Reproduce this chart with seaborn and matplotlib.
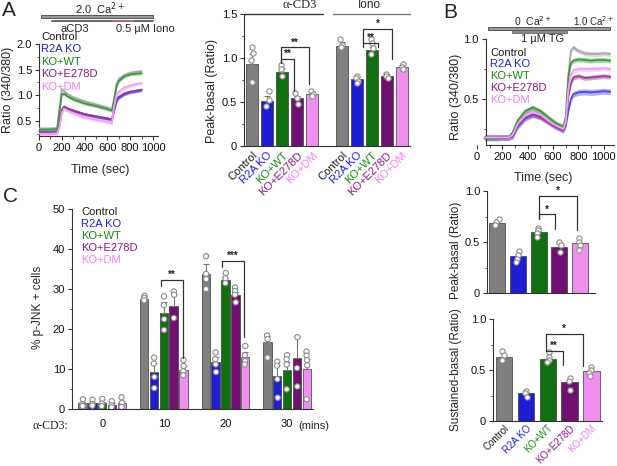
import numpy as np
import pandas as pd
import matplotlib
matplotlib.use("Agg")
import matplotlib.pyplot as plt
from matplotlib.ticker import MultipleLocator, FixedLocator
import seaborn as sns

sns.set_theme(style="ticks")
plt.rcParams["font.family"] = ["Liberation Sans", "DejaVu Sans"]
plt.rcParams["axes.linewidth"] = 0.8
plt.rcParams["axes.edgecolor"] = "#333333"
plt.rcParams["xtick.color"] = "#333333"
plt.rcParams["ytick.color"] = "#333333"
plt.rcParams["xtick.labelcolor"] = "#111111"
plt.rcParams["ytick.labelcolor"] = "#111111"

# ---------------- data ----------------
GROUPS = ["Control", "R2A KO", "KO+WT", "KO+E278D", "KO+DM"]
BAR_COLORS = ["#7f7f7f", "#0000f0", "#008000", "#800080", "#ff80ff"]
TEXT_COLORS = ["#1a1a1a", "#1f1fe6", "#138a13", "#861a86", "#f57df5"]
LINE_COLORS = ["#a9a9a9", "#4b4be0", "#3c9a3c", "#9a3c9a", "#f5a0f5"]

# Panel A traces (aCD3 then ionomycin)
A_TIME = [0, 100, 160, 180, 200, 220, 250, 300, 400, 500, 600, 640, 660, 680, 700, 750, 800, 900]
A_CONTROL = [0.35, 0.35, 0.36, 0.75, 1.12, 1.08, 1.02, 0.96, 0.88, 0.82, 0.76, 0.72, 0.95, 1.22, 1.32, 1.40, 1.44, 1.47]
A_R2AKO = [0.28, 0.28, 0.29, 0.45, 0.72, 0.78, 0.74, 0.70, 0.63, 0.58, 0.54, 0.52, 0.70, 0.88, 0.95, 1.02, 1.06, 1.10]
A_KOWT = [0.33, 0.33, 0.34, 0.70, 1.02, 1.03, 0.98, 0.92, 0.84, 0.79, 0.73, 0.70, 0.92, 1.18, 1.28, 1.37, 1.41, 1.43]
A_E278D = [0.27, 0.27, 0.28, 0.42, 0.70, 0.77, 0.74, 0.70, 0.63, 0.59, 0.55, 0.53, 0.75, 0.92, 0.97, 1.04, 1.07, 1.11]
A_DM = [0.25, 0.25, 0.26, 0.38, 0.65, 0.74, 0.70, 0.65, 0.57, 0.52, 0.48, 0.46, 0.80, 1.00, 1.07, 1.15, 1.19, 1.24]
A_SEM = [0.035, 0.03, 0.03, 0.03, 0.035]

# Panel A bars: peak - basal
A_STIM = ["α-CD3", "Iono"]
A_ACD3_MEAN = [0.93, 0.515, 0.845, 0.54, 0.59]
A_ACD3_SEM = [0.12, 0.05, 0.04, 0.03, 0.02]
A_IONO_MEAN = [1.135, 0.76, 1.09, 0.795, 0.90]
A_IONO_SEM = [0.05, 0.02, 0.04, 0.02, 0.02]
A_ACD3_PTS = [[1.13, 1.06, 0.98, 0.73], [0.62, 0.52, 0.46], [0.92, 0.88, 0.79],
              [0.60, 0.55, 0.48], [0.62, 0.59, 0.57]]
A_IONO_PTS = [[1.22, 1.15, 1.12], [0.80, 0.77, 0.74, 0.72], [1.22, 1.17, 1.11, 1.04],
              [0.82, 0.80, 0.77], [0.93, 0.90, 0.88]]

# Panel B traces (TG in 0 Ca, then 1 mM Ca)
B_TIME = [60, 150, 250, 280, 320, 380, 440, 500, 560, 620, 680, 700, 720, 740, 760, 800, 850, 900, 950, 1000, 1050]
B_CONTROL = [0.18, 0.18, 0.18, 0.21, 0.30, 0.38, 0.41, 0.38, 0.33, 0.28, 0.25, 0.33, 0.70, 0.90, 0.93, 0.90, 0.88, 0.875, 0.875, 0.88, 0.875]
B_R2AKO = [0.18, 0.18, 0.18, 0.19, 0.27, 0.34, 0.37, 0.35, 0.31, 0.27, 0.24, 0.28, 0.40, 0.50, 0.54, 0.555, 0.56, 0.555, 0.56, 0.565, 0.56]
B_KOWT = [0.17, 0.17, 0.18, 0.22, 0.32, 0.40, 0.43, 0.40, 0.35, 0.30, 0.27, 0.35, 0.68, 0.80, 0.82, 0.83, 0.825, 0.82, 0.825, 0.825, 0.82]
B_E278D = [0.18, 0.18, 0.18, 0.19, 0.28, 0.35, 0.37, 0.35, 0.31, 0.27, 0.24, 0.30, 0.52, 0.63, 0.68, 0.69, 0.675, 0.68, 0.685, 0.69, 0.685]
B_DM = [0.18, 0.18, 0.18, 0.20, 0.29, 0.36, 0.39, 0.37, 0.32, 0.28, 0.25, 0.31, 0.58, 0.70, 0.74, 0.75, 0.75, 0.75, 0.75, 0.755, 0.75]
B_SEM = [0.02, 0.025, 0.02, 0.02, 0.02]

# Panel B bars
B_PEAK_MEAN = [0.69, 0.36, 0.60, 0.45, 0.49]
B_PEAK_PTS = [[0.725, 0.70, 0.67], [0.415, 0.37, 0.33, 0.30], [0.64, 0.62, 0.585, 0.55],
              [0.50, 0.47, 0.405], [0.535, 0.50, 0.47, 0.42]]
B_SUST_MEAN = [0.63, 0.27, 0.61, 0.38, 0.49]
B_SUST_PTS = [[0.69, 0.645, 0.595], [0.295, 0.27, 0.24], [0.68, 0.63, 0.595, 0.58],
              [0.42, 0.39, 0.30], [0.525, 0.50, 0.47, 0.44]]

# Panel C: % p-JNK+ cells
C_TIMES = ["0", "10", "20", "30"]
C_MEAN = {
    "0": [1.5, 1.5, 1.5, 1.1, 1.6],
    "10": [27.5, 9.3, 24.0, 25.7, 9.8],
    "20": [33.7, 11.8, 32.2, 28.6, 13.0],
    "30": [16.7, 8.3, 9.9, 12.9, 10.1],
}
C_SEM = {
    "0": [0.4, 0.4, 0.4, 0.4, 0.5],
    "10": [0.8, 2.2, 2.8, 3.0, 1.0],
    "20": [2.5, 1.3, 0.8, 0.8, 1.4],
    "30": [1.6, 2.8, 2.0, 5.2, 2.4],
}
C_PTS = {
    "0": [[2.5, 1.2, 0.8], [2.4, 1.3, 0.9], [2.6, 1.4, 0.8], [2.0, 1.0, 0.5], [3.0, 1.6, 0.6]],
    "10": [[28.3, 27.8, 27.2], [12.9, 11.4, 8.1, 5.3], [28.2, 26.0, 22.5, 19.8],
           [29.4, 28.6, 22.8], [12.3, 10.8, 9.5, 8.5]],
    "20": [[38.2, 33.8, 32.5, 30.0], [14.2, 12.5, 11.2, 9.3], [34.0, 32.7, 31.5],
           [30.4, 29.5, 28.6, 26.7], [15.8, 13.5, 12.0, 11.2]],
    "30": [[18.4, 17.5, 12.9], [11.9, 10.9, 7.5, 2.9], [13.5, 12.5, 11.2, 5.0],
           [18.0, 10.3, 5.7], [14.4, 13.4, 12.3, 11.0, 2.5]],
}

# ---------------- layout helpers ----------------
W, H = 617, 466
fig = plt.figure(figsize=(W / 100, H / 100), dpi=100)


def add_ax(l, t, r, b):
    return fig.add_axes([l / W, 1 - b / H, (r - l) / W, (b - t) / H])


PT_KW = dict(marker="o", size=3.8, edgecolor="#8a8a8a", linewidth=0.8)


def style(ax, fs=8):
    sns.despine(ax=ax)
    ax.tick_params(axis="both", labelsize=fs, length=3, width=0.8, pad=2)
    ax.tick_params(which="minor", length=1.8, width=0.6)


def bracket(ax, x1, x2, y, yl1, yl2, txt, fs=7):
    ax.plot([x1, x1, x2, x2], [yl1, y, y, yl2], color="#333333", lw=0.9,
            clip_on=False, zorder=6)
    ax.text((x1 + x2) / 2, y, txt, ha="center", va="bottom", fontsize=fs,
            fontweight="bold", color="#222222", clip_on=False, zorder=6)


def traces(ax, time, series, sems):
    rows = []
    for g, vals in zip(GROUPS, series):
        for t, v in zip(time, vals):
            rows.append({"time": t, "ratio": v, "group": g})
    df = pd.DataFrame(rows)
    for g, vals, s, c in zip(GROUPS, series, sems, LINE_COLORS):
        v = np.array(vals)
        ax.fill_between(time, v - s, v + s, color=c, alpha=0.45, lw=0, zorder=2)
    sns.lineplot(data=df, x="time", y="ratio", hue="group", hue_order=GROUPS,
                 palette=LINE_COLORS, legend=False, lw=1.3, ax=ax, zorder=3)


def bars_simple(ax, means, pts, width):
    df = pd.DataFrame({"group": GROUPS, "val": means})
    sns.barplot(data=df, x="group", y="val", hue="group", order=GROUPS, hue_order=GROUPS,
                palette=BAR_COLORS, width=width, legend=False, errorbar=None,
                edgecolor="#3a3a3a", linewidth=0.5, ax=ax, zorder=2)
    prow = [{"group": g, "val": v} for g, vs in zip(GROUPS, pts) for v in vs]
    sns.stripplot(data=pd.DataFrame(prow), x="group", y="val", order=GROUPS, ax=ax,
                  zorder=5, color="white", jitter=0.12, **PT_KW)
    ax.set_xlabel("")


np.random.seed(3)

# ---------------- overlay for annotations ----------------
ov = fig.add_axes([0, 0, 1, 1], zorder=10)
ov.set_xlim(0, W)
ov.set_ylim(H, 0)
ov.axis("off")
ov.patch.set_alpha(0)

# ---------------- Panel A traces ----------------
axA = add_ax(39, 44, 157.6, 136.3)
traces(axA, A_TIME, [A_CONTROL, A_R2AKO, A_KOWT, A_E278D, A_DM], A_SEM)
axA.set_xlim(0, 1040)
axA.set_ylim(0.2, 2.0)
axA.set_xticks([0, 200, 400, 600, 800, 1000])
axA.xaxis.set_minor_locator(MultipleLocator(100))
axA.set_yticks([0.5, 1.0, 1.5, 2.0])
axA.set_yticklabels(["0.5", "1.0", "1.5", "2.0"])
axA.yaxis.set_minor_locator(MultipleLocator(0.25))
style(axA)
axA.set_xlabel("Time (sec)", fontsize=9)
axA.xaxis.set_label_coords((100 - 39) / 118.6, (136.3 - 164) / 92.3)
axA.set_ylabel("Ratio (340/380)", fontsize=9)
axA.yaxis.set_label_coords((14 - 39) / 118.6, 0.5)

for i, (g, c) in enumerate(zip(GROUPS, TEXT_COLORS)):
    ov.text(41, 37 + 12.4 * i, g, color=c, fontsize=8, va="center", ha="left")

ov.add_patch(plt.Rectangle((41, 15.2), 112, 3, facecolor="#9a9a9a", edgecolor="#444444", lw=0.6))
ov.plot([52, 153], [20.5, 20.5], color="#666666", lw=1.4)
ov.plot([113, 133], [20.5, 20.5], color="#b07070", lw=1.4)
ov.text(100, 8.5, "2.0  Ca$^{2+}$", fontsize=8, ha="center", va="center")
ov.text(75, 28.5, "aCD3", fontsize=8, ha="center", va="center")
ov.text(145, 28.5, "0.5 µM Iono", fontsize=8, ha="center", va="center")

# ---------------- Panel A bars ----------------
axAb = add_ax(244, 14, 410, 146)
keys_a = [f"{A_STIM[0]}|{g}" for g in GROUPS]
keys_i = [f"{A_STIM[1]}|{g}" for g in GROUPS]
ORDER_A = keys_a + ["gap"] + keys_i
pal_a = {k: c for k, c in zip(keys_a + keys_i, BAR_COLORS * 2)}
dfA = pd.DataFrame({"key": keys_a + keys_i, "val": A_ACD3_MEAN + A_IONO_MEAN})
sns.barplot(data=dfA, x="key", y="val", hue="key", order=ORDER_A, palette=pal_a,
            width=0.83, legend=False, errorbar=None, edgecolor="#3a3a3a",
            linewidth=0.5, ax=axAb, zorder=2)
xs = [ORDER_A.index(k) for k in keys_a + keys_i]
axAb.errorbar(xs, A_ACD3_MEAN + A_IONO_MEAN,
              yerr=[np.zeros(10), A_ACD3_SEM + A_IONO_SEM],
              fmt="none", ecolor="#777777", elinewidth=0.8, capsize=2.5, capthick=0.8, zorder=3)
prowA = [{"key": k, "val": v} for k, vs in zip(keys_a + keys_i, A_ACD3_PTS + A_IONO_PTS) for v in vs]
sns.stripplot(data=pd.DataFrame(prowA), x="key", y="val", order=ORDER_A, ax=axAb,
              zorder=5, color="white", jitter=0.12, **PT_KW)
axAb.set_xlim(-0.55, 10.55)
axAb.set_ylim(0, 1.5)
axAb.set_yticks([0, 0.5, 1.0, 1.5])
axAb.set_yticklabels(["0", "0.5", "1.0", "1.5"])
axAb.yaxis.set_minor_locator(MultipleLocator(0.25))
style(axAb)
axAb.set_xticks(xs)
axAb.set_xticklabels(GROUPS * 2, rotation=45, ha="right", rotation_mode="anchor", fontsize=8)
for lab, c in zip(axAb.get_xticklabels(), TEXT_COLORS * 2):
    lab.set_color(c)
axAb.tick_params(axis="x", length=0, pad=3)
axAb.set_xlabel("")
axAb.set_ylabel("Peak-basal (Ratio)", fontsize=9)
axAb.yaxis.set_label_coords((218 - 244) / 166, 0.42)
axAb.plot([-0.55, 4.73], [1.5, 1.5], color="#333333", lw=1.0, clip_on=False)
axAb.plot([5.4, 10.55], [1.5, 1.5], color="#777777", lw=1.0, clip_on=False)
axAb.text(3.2, 1.6, "α-CD3", fontsize=9, ha="center", va="center", family=["Liberation Serif", "DejaVu Serif"])
axAb.text(7.87, 1.6, "Iono", fontsize=8.5, ha="center", va="center")
bracket(axAb, 1.91, 3.82, 1.12, 0.94, 0.70, "**")
bracket(axAb, 1.91, 2.80, 0.985, 0.94, 0.63, "**")
bracket(axAb, 7.42, 9.35, 1.33, 1.17, 0.985, "*")
bracket(axAb, 7.42, 8.38, 1.17, 1.13, 1.13, "**")

# ---------------- Panel B traces ----------------
axB = add_ax(477, 39, 614, 145)
traces(axB, B_TIME, [B_CONTROL, B_R2AKO, B_KOWT, B_E278D, B_DM], B_SEM)
axB.set_xlim(0, 1080)
axB.set_ylim(0.117, 1.0)
axB.set_xticks([0, 200, 400, 600, 800, 1000])
axB.xaxis.set_minor_locator(FixedLocator([100, 300, 500, 700, 900]))
axB.set_yticks([0.5, 1.0])
axB.set_yticklabels(["0.5", "1.0"])
axB.yaxis.set_minor_locator(MultipleLocator(0.25))
style(axB)
axB.spines["left"].set_position(("data", 70))
axB.spines["bottom"].set_bounds(70, 1080)
axB.set_xlabel("Time (sec)", fontsize=9)
axB.xaxis.set_label_coords((543 - 477) / 137, (145 - 172) / 106)
axB.set_ylabel("Ratio (340/380)", fontsize=9)
axB.yaxis.set_label_coords((462 - 477) / 137, 0.45)

for i, (g, c) in enumerate(zip(GROUPS, TEXT_COLORS)):
    ov.text(490, 52.5 + 11.8 * i, g, color=c, fontsize=8, va="center", ha="left")

ov.add_patch(plt.Rectangle((488, 27.2), 122, 2.8, facecolor="#9a9a9a", edgecolor="#444444", lw=0.6))
ov.add_patch(plt.Rectangle((512, 30.2), 55, 2.6, facecolor="#8a8a8a", edgecolor="#555555", lw=0.5))
ov.text(533, 21.5, "0  Ca$^{2+}$", fontsize=7.5, ha="center", va="center")
ov.text(614, 21.5, "1.0 Ca$^{2+}$", fontsize=7, ha="right", va="center")
ov.text(543, 39.5, "1 µM TG", fontsize=8, ha="center", va="center")

# ---------------- Panel B peak bars ----------------
axBp = add_ax(487, 191, 595, 293)
bars_simple(axBp, B_PEAK_MEAN, B_PEAK_PTS, 0.77)
axBp.set_xlim(-0.48, 4.72)
axBp.set_ylim(0, 1.0)
axBp.set_yticks([0, 0.5, 1.0])
axBp.set_yticklabels(["0", "0.5", "1.0"])
axBp.yaxis.set_minor_locator(MultipleLocator(0.25))
style(axBp)
axBp.set_xticks([])
axBp.set_ylabel("Peak-basal (Ratio)", fontsize=8.5)
axBp.yaxis.set_label_coords((462 - 487) / 108, 0.42)
bracket(axBp, 2.04, 3.84, 0.95, 0.73, 0.62, "*")
bracket(axBp, 2.04, 2.81, 0.77, 0.73, 0.63, "*")

# ---------------- Panel B sustained bars ----------------
axBs = add_ax(493, 319, 602, 421)
bars_simple(axBs, B_SUST_MEAN, B_SUST_PTS, 0.75)
axBs.set_xlim(-0.5, 4.48)
axBs.set_ylim(0, 1.0)
axBs.set_yticks([0, 0.5, 1.0])
axBs.set_yticklabels(["0", "0.5", "1.0"])
axBs.yaxis.set_minor_locator(MultipleLocator(0.25))
style(axBs)
axBs.set_xticks(range(5))
axBs.set_xticklabels(GROUPS, rotation=45, ha="right", rotation_mode="anchor", fontsize=7)
for lab, c in zip(axBs.get_xticklabels(), TEXT_COLORS):
    lab.set_color(c)
axBs.tick_params(axis="x", length=0, pad=1.5)
axBs.set_ylabel("Sustained-basal (Ratio)", fontsize=8.5)
axBs.yaxis.set_label_coords((462 - 493) / 109, 0.5)
bracket(axBs, 1.9, 3.6, 0.85, 0.69, 0.54, "*")
bracket(axBs, 1.9, 2.7, 0.69, 0.69, 0.55, "**")

# ---------------- Panel C ----------------
axC = add_ax(72, 209, 313, 409.3)
rows = [{"time": t, "group": g, "val": C_MEAN[t][i]} for t in C_TIMES for i, g in enumerate(GROUPS)]
dfC = pd.DataFrame(rows)
sns.barplot(data=dfC, x="time", y="val", hue="group", order=C_TIMES, hue_order=GROUPS,
            palette=BAR_COLORS, width=0.8, gap=0.14, legend=False, errorbar=None,
            edgecolor="#3a3a3a", linewidth=0.5, ax=axC, zorder=2)
for ti, t in enumerate(C_TIMES):
    xpos = [ti + (i - 2) * 0.16 for i in range(5)]
    axC.errorbar(xpos, C_MEAN[t], yerr=[np.zeros(5), C_SEM[t]], fmt="none",
                 ecolor="#777777", elinewidth=0.8, capsize=2, capthick=0.8, zorder=3)
prowC = [{"time": t, "group": g, "val": v} for t in C_TIMES
         for g, vs in zip(GROUPS, C_PTS[t]) for v in vs]
sns.stripplot(data=pd.DataFrame(prowC), x="time", y="val", hue="group", order=C_TIMES,
              hue_order=GROUPS, palette=["white"] * 5, dodge=True, legend=False,
              ax=axC, zorder=5, jitter=0.04, **PT_KW)
axC.set_xlim(-0.49, 3.42)
axC.set_ylim(0, 50)
axC.set_yticks([0, 10, 20, 30, 40, 50])
axC.yaxis.set_minor_locator(MultipleLocator(5))
style(axC)
axC.tick_params(axis="x", length=0, pad=7)
axC.set_xlabel("")
axC.set_ylabel("% p-JNK + cells", fontsize=8.5)
axC.yaxis.set_label_coords((44 - 72) / 241, 0.51)
bracket(axC, 0.947, 1.313, 32.2, 30.8, 12.7, "**")
bracket(axC, 1.947, 2.30, 37.1, 35.6, 18.1, "***")

for i, (g, c) in enumerate(zip(GROUPS, TEXT_COLORS)):
    ov.text(81, 212 + 11.9 * i, g, color=c, fontsize=8, va="center", ha="left")
ov.text(50, 426, "α-CD3:", fontsize=8.5, ha="center", va="center", family=["Liberation Serif", "DejaVu Serif"])
ov.text(314, 426, "(mins)", fontsize=8, ha="center", va="center")

# panel letters
ov.text(2, 10, "A", fontsize=15, ha="left", va="center")
ov.text(443, 12, "B", fontsize=15, ha="left", va="center")
ov.text(3, 197, "C", fontsize=15, ha="left", va="center")

fig.savefig("out.png", dpi=100)
